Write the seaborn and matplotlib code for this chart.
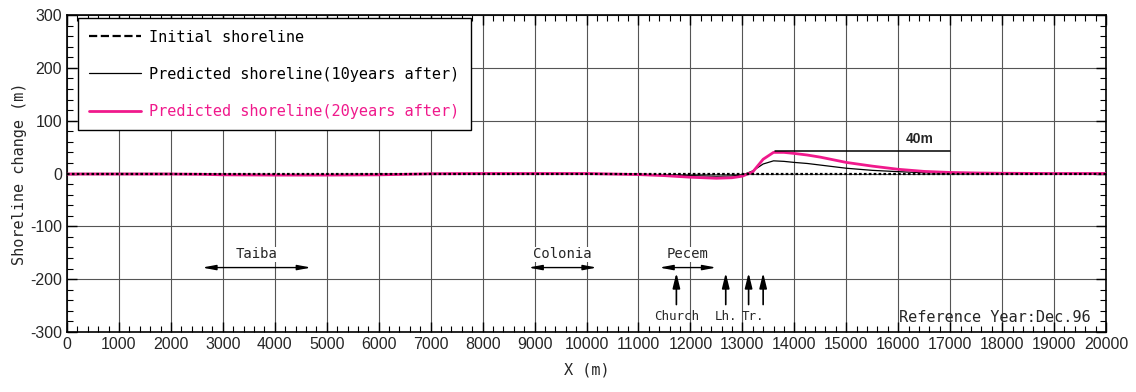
import numpy as np
import pandas as pd
import matplotlib
matplotlib.use("Agg")
import matplotlib.pyplot as plt
import seaborn as sns
from matplotlib.ticker import MultipleLocator

# Alongshore distance (m) and shoreline change (m)
x_m = [0, 1000, 2000, 2600, 3000, 4000, 5000, 6000, 6500, 7000, 8000, 9000,
       10000, 10500, 11000, 11500, 12000, 12500, 12800, 13000, 13200, 13400,
       13600, 13800, 14000, 14250, 14500, 14750, 15000, 15500, 16000, 16500,
       17000, 17500, 18000, 19000, 20000]
initial = [0] * len(x_m)
pred_10y = [0, 0, 0, -1, -1.5, -2, -2, -1.5, -1, 0, 0, 0,
            0, -0.5, -1.5, -3, -4, -5, -4.5, -3, 5, 18,
            24, 23, 21, 19, 16, 13, 10, 6, 3.5, 1.5,
            0.8, 0.3, 0, 0, 0]
pred_20y = [-1, -1, -1, -1.5, -2.5, -3, -3, -2.5, -1.5, -0.5, 0, 0,
            0, -1, -2, -4, -7, -9, -8, -5, 3, 27,
            40, 40, 38, 35, 31, 26, 21, 14, 8, 4,
            2, 1, 0.5, 0, 0]

labels = ["Initial shoreline",
          "Predicted shoreline(10years after)",
          "Predicted shoreline(20years after)"]

# Place names with their extents and structure markers
places = ["Taiba", "Colonia", "Pecem"]
place_from = [2600, 8880, 11400]
place_to = [4700, 10200, 12500]
markers = ["Church", "Lh.", "Tr."]
marker_x = [11730, 12680, 13120]
extra_arrow_x = [13400]

PINK = "#f0198c"
MONO = ["DejaVu Sans Mono"]
SANS = ["Liberation Sans", "DejaVu Sans"]

sns.set_style("ticks")
plt.rcParams["font.family"] = SANS
plt.rcParams["axes.unicode_minus"] = False

df = pd.DataFrame({
    "x": x_m * 3,
    "y": initial + pred_10y + pred_20y,
    "series": [labels[0]] * len(x_m) + [labels[1]] * len(x_m) + [labels[2]] * len(x_m),
})

fig = plt.figure(figsize=(11.36, 3.92), dpi=100)
ax = fig.add_axes([0.059, 0.153, 0.9146, 0.8087])

palette = {labels[0]: "black", labels[1]: "black", labels[2]: PINK}
sizes = {labels[0]: 1.6, labels[1]: 0.9, labels[2]: 2.0}
sns.lineplot(data=df, x="x", y="y", hue="series", size="series",
             palette=palette, sizes=sizes, ax=ax, legend=False, zorder=3)
lines = ax.get_lines()
lines[0].set_linestyle((0, (1.2, 1.0)))
lines[0].set_zorder(4)

ax.set_xlim(0, 20000)
ax.set_ylim(-300, 300)
ax.xaxis.set_major_locator(MultipleLocator(1000))
ax.xaxis.set_minor_locator(MultipleLocator(200))
ax.yaxis.set_major_locator(MultipleLocator(100))
ax.yaxis.set_minor_locator(MultipleLocator(20))
ax.grid(True, which="major", color="#555555", lw=0.8)
ax.tick_params(which="both", direction="in", top=True, right=True,
               color="black", labelsize=11.5)
ax.tick_params(which="major", length=7, width=1)
ax.tick_params(which="minor", length=4, width=0.8)
for s in ax.spines.values():
    s.set_color("black")
    s.set_linewidth(1.2)
for t in ax.get_xticklabels() + ax.get_yticklabels():
    t.set_family(SANS)

ax.set_xlabel("X (m)", family=MONO, fontsize=11, labelpad=8)
ax.set_ylabel("Shoreline change (m)", family=MONO, fontsize=11, labelpad=2)

# Legend
handles = [plt.Line2D([], [], color=l.get_color(), lw=l.get_linewidth(),
                      linestyle=l.get_linestyle()) for l in lines]
leg = ax.legend(handles, labels, loc="upper left", bbox_to_anchor=(0.0105, 0.99),
                borderaxespad=0,
                prop={"family": MONO, "size": 11}, frameon=True, fancybox=False,
                edgecolor="black", framealpha=1, handlelength=3.4,
                labelspacing=1.45, borderpad=0.75, handletextpad=0.5)
leg.get_frame().set_linewidth(1.0)
for txt, l in zip(leg.get_texts(), lines):
    txt.set_color(l.get_color())

# 40 m accretion marker
ax.plot([13630, 17000], [42, 42], color="black", lw=1.1, zorder=3)
ax.text(16420, 52, "40m", ha="center", va="bottom", fontsize=10,
        fontweight="bold", family=SANS)

# Place extents
for name, a, b in zip(places, place_from, place_to):
    ax.annotate("", xy=(a, -178), xytext=(b, -178),
                arrowprops=dict(arrowstyle="<|-|>,head_length=0.8,head_width=0.15",
                                color="black", lw=1.0, shrinkA=0, shrinkB=0))
    ax.text((a + b) / 2, -166, name, ha="center", va="bottom", fontsize=10,
            family=MONO, bbox=dict(facecolor="white", edgecolor="none", pad=0.5))

# Structure markers
for xv in marker_x + extra_arrow_x:
    ax.annotate("", xy=(xv, -188), xytext=(xv, -248),
                arrowprops=dict(arrowstyle="-|>,head_length=0.9,head_width=0.22",
                                color="black", lw=1.2, shrinkA=0, shrinkB=0))
ax.text(marker_x[0], -270, markers[0], ha="center", va="center", fontsize=9, family=MONO)
ax.text(marker_x[1], -270, markers[1], ha="center", va="center", fontsize=9, family=MONO)
ax.text(marker_x[2] + 80, -270, markers[2], ha="center", va="center", fontsize=9, family=MONO)

ax.text(19700, -272, "Reference Year:Dec.96", ha="right", va="center",
        fontsize=11, family=MONO)

fig.savefig("out.png", dpi=100)
